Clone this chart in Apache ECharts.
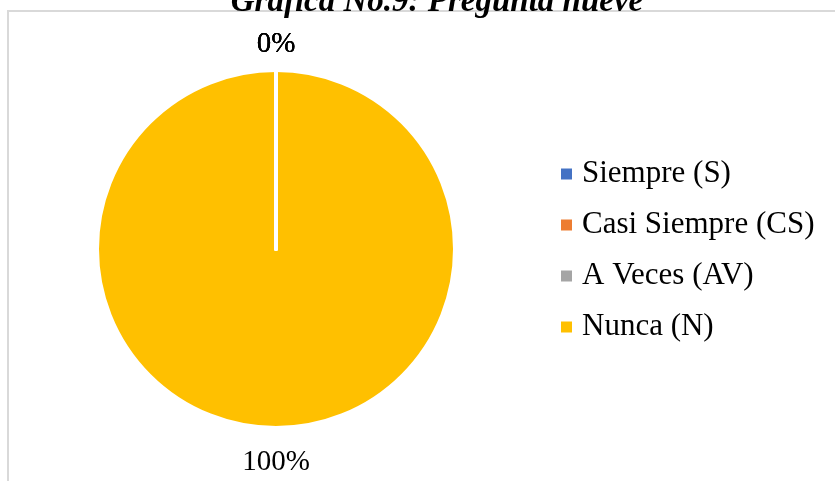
<!DOCTYPE html>
<html>
<head>
<meta charset="utf-8">
<style>
    html, body { margin: 0; padding: 0; background: #fff; }
    #main { width: 835px; height: 481px; }
</style>
<script src="https://cdn.jsdelivr.net/npm/echarts@6/dist/echarts.min.js"></script>
</head>
<body>
<div id="main"></div>
<script>
    var categories = ['Siempre (S)', 'Casi Siempre (CS)', 'A Veces (AV)', 'Nunca (N)'];
    var values = [0, 0, 0, 100];
    var colors = ['#4472C4', '#ED7D31', '#A5A5A5', '#FFC000'];

    var pieData = categories.map(function (name, i) {
        return {
            name: name,
            value: values[i],
            itemStyle: { color: colors[i] }
        };
    });
    // draw the big slice first so the white borders of the empty ones stay on top
    pieData.reverse();

    var myChart = echarts.init(document.getElementById('main'));
    var option = {
        animation: false,
        title: {
            text: 'Gráfica No.9: Pregunta nueve',
            left: 432,
            textAlign: 'center',
            top: -19,
            textStyle: {
                fontFamily: 'Liberation Serif',
                fontStyle: 'italic',
                fontWeight: 'bold',
                fontSize: 33,
                color: '#000'
            }
        },
        graphic: [{
            type: 'rect',
            shape: { x: 8, y: 11, width: 900, height: 600 },
            style: { fill: 'none', stroke: '#d9d9d9', lineWidth: 2 },
            silent: true,
            z: -10
        }],
        legend: {
            orient: 'vertical',
            left: 561,
            top: 157,
            padding: 0,
            itemWidth: 11,
            itemHeight: 11,
            itemGap: 17,
            icon: 'rect',
            itemStyle: { borderWidth: 0 },
            textStyle: {
                fontFamily: 'Liberation Serif',
                fontSize: 31,
                lineHeight: 34,
                color: '#000',
                padding: [0, 0, 0, 5]
            },
            data: categories
        },
        series: [{
            type: 'pie',
            center: [276, 249],
            radius: 179,
            startAngle: 90,
            clockwise: true,
            avoidLabelOverlap: false,
            itemStyle: { borderColor: '#fff', borderWidth: 4 },
            label: {
                show: true,
                position: 'outside',
                formatter: '{d}%',
                fontFamily: 'Liberation Serif',
                fontSize: 29,
                color: '#000'
            },
            labelLine: { show: false, length: 30, length2: 0 },
            labelLayout: function (params) {
                var shift = params.align === 'left' ? -5 : (params.align === 'right' ? 5 : 0);
                return { align: 'center', dx: shift, dy: 4 };
            },
            data: pieData
        }]
    };
    myChart.setOption(option);
</script>
</body>
</html>
